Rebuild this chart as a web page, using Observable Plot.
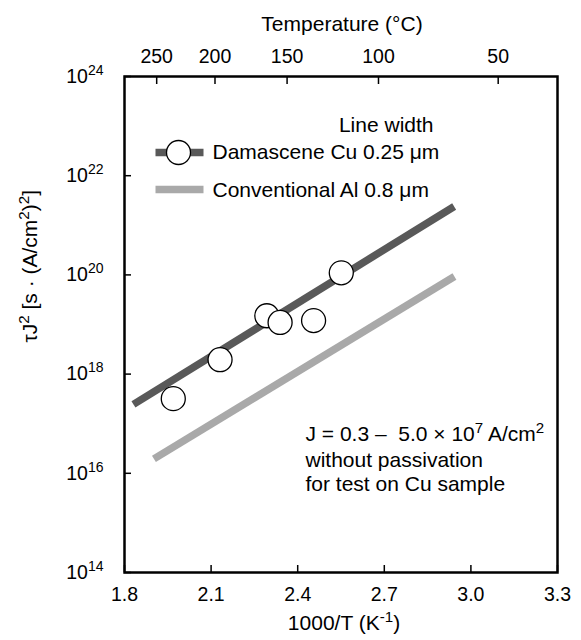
<!DOCTYPE html>
<html><head><meta charset="utf-8">
<script src="https://cdn.jsdelivr.net/npm/d3@7"></script>
<script src="https://cdn.jsdelivr.net/npm/@observablehq/plot@0.6"></script>
<style>body{margin:0;background:#fff}svg{display:block}</style>
</head><body><div id="chart"></div>
<script>
// ---- data ----
const xTicks = [1.8, 2.1, 2.4, 2.7, 3.0, 3.3];
const tempTicksC = [250, 200, 150, 100, 50];
const yTicks = [1e14, 1e16, 1e18, 1e20, 1e22, 1e24];
const cuX = [1.969, 2.131, 2.293, 2.339, 2.455, 2.551];
const cuY = [3.2e17, 1.95e18, 1.5e19, 1.1e19, 1.2e19, 1.1e20];
const cuFitX = [1.831, 2.942];
const cuFitY = [2.45e17, 2.4e21];
const alFitX = [1.902, 2.943];
const alFitY = [1.95e16, 9.3e19];
const seriesNames = ["Damascene Cu 0.25 μm", "Conventional Al 0.8 μm"];
const legendTitle = "Line width";
const noteLines = ["J = 0.3 –\u00a0 5.0 × 10^{7} A/cm^{2}", "without passivation", "for test on Cu sample"];
const xTitle = "1000/T (K^{-1})";
const topTitle = "Temperature (°C)";
const yTitle = "τJ^{2} [s · (A/cm^{2})^{2}]";

const cuPts = cuX.map((x, i) => ({x, y: cuY[i]}));
const cuFit = cuFitX.map((x, i) => ({x, y: cuFitY[i]}));
const alFit = alFitX.map((x, i) => ({x, y: alFitY[i]}));

const FONT = "'Liberation Sans', Arial, Helvetica, sans-serif";
const cuColor = "#595959", alColor = "#a9a9a9";
const lineShape = {draw(context, l) { context.moveTo(0, 0); context.lineTo(0, -l); }};
const TXT = 21, TICK = 19.5;

const chart = Plot.plot({
  width: 581, height: 640,
  marginLeft: 124, marginRight: 24, marginTop: 76, marginBottom: 68,
  style: {fontFamily: FONT, background: "white", color: "black"},
  x: {domain: [1.8, 3.3]},
  y: {type: "log", domain: [1e14, 1e24]},
  marks: [
    Plot.line(alFit, {x: "x", y: "y", stroke: alColor, strokeWidth: 7.5, strokeLinecap: "butt"}),
    Plot.line(cuFit, {x: "x", y: "y", stroke: cuColor, strokeWidth: 7.5, strokeLinecap: "butt"}),
    Plot.dot(cuPts, {x: "x", y: "y", r: 12, fill: "white", stroke: "black", strokeWidth: 1.3}),
    Plot.frame({stroke: "black", strokeWidth: 2.5}),
    Plot.axisX(xTicks, {anchor: "bottom", tickSize: -7, tickPadding: 22, strokeWidth: 1.5, tickFormat: d3.format(".1f"), fontSize: TICK, label: null}),
    Plot.axisX(tempTicksC.map(c => 1000 / (c + 273.15)), {anchor: "top", tickSize: -7, tickPadding: 20.5, strokeWidth: 1.5, tickFormat: d => String(Math.round(1000 / d - 273.15)), fontSize: TICK, label: null}),
    Plot.axisY(yTicks, {anchor: "left", tickSize: -7, tickPadding: 28, strokeWidth: 1.5, tickFormat: d => `10^{${Math.round(Math.log10(d))}}`, fontSize: TICK, label: null}),
    // axis titles
    Plot.text([topTitle], {text: d => d, frameAnchor: "top", dx: 1, dy: -52, fontSize: TXT, lineAnchor: "middle"}),
    Plot.text([xTitle], {text: d => d, frameAnchor: "bottom", dx: 3, dy: 51, fontSize: TXT, lineAnchor: "middle"}),
    Plot.text([yTitle], {text: d => d, frameAnchor: "left", dx: -94, dy: 18, rotate: -90, fontSize: TXT, lineAnchor: "middle"}),
    // legend
    Plot.text([legendTitle], {text: d => d, frameAnchor: "top-left", dx: 309, dy: 48.5, textAnchor: "end", fontSize: TXT, lineAnchor: "middle"}),
    Plot.vector([0], {frameAnchor: "top-left", dx: 31, dy: 76, length: 48, rotate: 90, anchor: "start", shape: lineShape, stroke: cuColor, strokeWidth: 7.5, strokeLinecap: "butt"}),
    Plot.dot([0], {frameAnchor: "top-left", dx: 54, dy: 76, r: 12, fill: "white", stroke: "black", strokeWidth: 1.3}),
    Plot.text([seriesNames[0]], {text: d => d, frameAnchor: "top-left", dx: 88, dy: 76, textAnchor: "start", fontSize: TXT, lineAnchor: "middle"}),
    Plot.vector([0], {frameAnchor: "top-left", dx: 31, dy: 113, length: 48, rotate: 90, anchor: "start", shape: lineShape, stroke: alColor, strokeWidth: 7.5, strokeLinecap: "butt"}),
    Plot.text([seriesNames[1]], {text: d => d, frameAnchor: "top-left", dx: 88, dy: 113.5, textAnchor: "start", fontSize: TXT, lineAnchor: "middle"}),
    // note
    Plot.text([noteLines[0]], {text: d => d, frameAnchor: "top-left", dx: 181, dy: 364, textAnchor: "start", fontSize: TXT, lineAnchor: "bottom"}),
    Plot.text([noteLines[1]], {text: d => d, frameAnchor: "top-left", dx: 181, dy: 390, textAnchor: "start", fontSize: TXT, lineAnchor: "bottom"}),
    Plot.text([noteLines[2]], {text: d => d, frameAnchor: "top-left", dx: 181, dy: 414, textAnchor: "start", fontSize: TXT, lineAnchor: "bottom"})
  ]
});

function supify(root) {
  const ns = "http://www.w3.org/2000/svg";
  const walker = document.createTreeWalker(root, NodeFilter.SHOW_TEXT);
  const nodes = [];
  while (walker.nextNode()) if (walker.currentNode.nodeValue.includes("^{")) nodes.push(walker.currentNode);
  for (const node of nodes) {
    const parts = node.nodeValue.split(/\^\{([^}]*)\}/);
    const frag = document.createDocumentFragment();
    parts.forEach((p, i) => {
      if (i % 2 === 0) { if (p) frag.appendChild(document.createTextNode(p)); }
      else {
        const t = document.createElementNS(ns, "tspan");
        t.setAttribute("baseline-shift", "super");
        t.setAttribute("font-size", "72%");
        t.textContent = p;
        frag.appendChild(t);
      }
    });
    node.parentNode.replaceChild(frag, node);
  }
}
document.getElementById("chart").appendChild(chart);
supify(chart);
</script>
</body></html>
